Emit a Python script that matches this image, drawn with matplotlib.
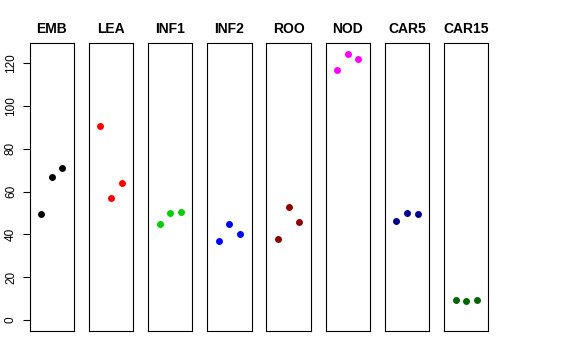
import matplotlib.pyplot as plt

plt.rcParams['font.family'] = ['Liberation Sans', 'DejaVu Sans']

groups = ['EMB', 'LEA', 'INF1', 'INF2', 'ROO', 'NOD', 'CAR5', 'CAR15']
colors = ['black', 'red', '#00CD00', 'blue', '#8B0000', 'magenta', '#00008B', '#006400']
emb = [49.4, 66.7, 71.2]
lea = [90.8, 56.9, 64.0]
inf1 = [45.1, 49.8, 50.6]
inf2 = [36.7, 45.0, 40.3]
roo = [37.8, 52.6, 45.6]
nod = [116.6, 124.4, 122.1]
car5 = [46.4, 50.1, 49.5]
car15 = [9.5, 8.7, 9.6]
values = [emb, lea, inf1, inf2, roo, nod, car5, car15]
reps = [1, 2, 3]

fig = plt.figure(figsize=(5.76, 3.6), dpi=100)

left0 = 29.5 / 576
step = 59.2 / 576
w = 44.5 / 576
bottom = 1 - 331 / 360
height = (331 - 43) / 360

for i in range(len(groups)):
    ax = fig.add_axes([left0 + i * step, bottom, w, height])
    ax.plot(reps, values[i], 'o', color=colors[i], markersize=5, markeredgewidth=0)
    ax.set_xlim(-0.1, 4.1)
    ax.set_ylim(-5.1, 129.4)
    ax.set_xticks([])
    ax.set_title(groups[i], fontsize=10, fontweight='bold', pad=7)
    for s in ax.spines.values():
        s.set_linewidth(0.8)
    if i == 0:
        ax.set_yticks(range(0, 121, 20))
        ax.set_yticklabels([str(v) for v in range(0, 121, 20)], rotation=90,
                           va='center', fontsize=8.5)
        ax.tick_params(axis='y', length=5, width=0.8, pad=4)
    else:
        ax.set_yticks([])

plt.savefig('out.png')
